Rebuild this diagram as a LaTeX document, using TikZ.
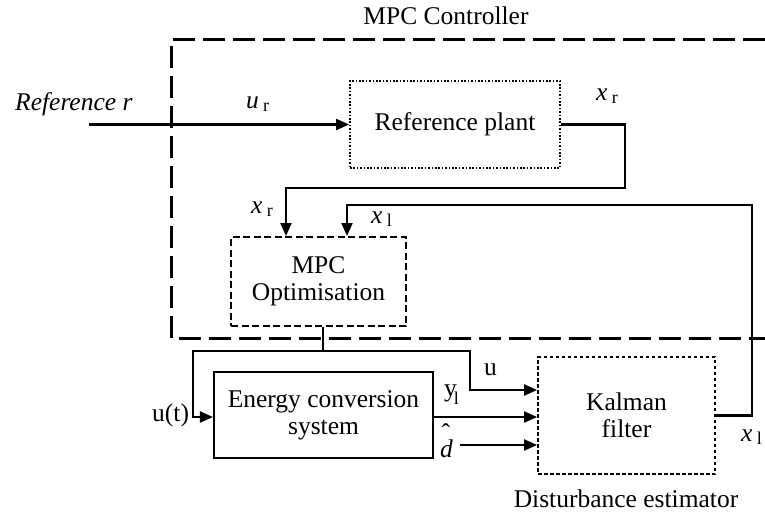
\documentclass[tikz,border=0pt]{standalone}
\usepackage{fontspec}
\setmainfont{Liberation Serif}
\usetikzlibrary{arrows.meta,calc}
\newcommand{\myvar}[2]{\textit{#1}\,\raisebox{-0.3ex}{\fontsize{18}{20}\selectfont #2}}
\begin{document}
\begin{tikzpicture}[x=1pt,y=-1pt,
  font=\fontsize{25.5}{29}\selectfont,
  blk/.style={draw,line width=2.1pt,inner sep=0pt,align=center},
  dotbox/.style={blk,line width=1.8pt,dash pattern=on 1.6pt off 1.8pt},
  dashbox/.style={blk,line width=2pt,dash pattern=on 7pt off 3.5pt},
  kbox/.style={blk,line width=1.8pt,dash pattern=on 3.5pt off 2.5pt},
  ln/.style={line width=2.1pt},
  arr/.style={ln,-{Triangle[length=13pt,width=11pt]}},
  frame/.style={line width=3pt,dash pattern=on 22pt off 8pt},
  lbl/.style={anchor=base west,inner sep=0pt}]
\useasboundingbox (0,0) rectangle (765,519);

% outer MPC controller frame
\draw[frame] (765,40) -- (171,40) -- (171,338) -- (765,338);
\node[anchor=base,inner sep=0pt] (title) at (446,25) {MPC Controller};

% blocks
\node[dotbox,minimum width=210pt,minimum height=87pt] (refplant) at (455,124.5) {Reference plant};
\node[dashbox,minimum width=175pt,minimum height=89pt] (mpc) at (318.5,281.5) {MPC\\[-2pt]Optimisation};
\node[blk,minimum width=219pt,minimum height=86pt] (energy) at (323.5,415) {Energy conversion\\[-2pt]system};
\node[kbox,minimum width=177pt,minimum height=117pt] (kalman) at (626.5,415.5) {Kalman\\[-2pt]filter};
\node[anchor=base,inner sep=0pt] (dist) at (626,507) {Disturbance estimator};

% reference input
\coordinate (rin) at (89,124.5);
\draw[arr] (rin) -- (refplant.west);
\node[lbl] (reflbl) at (15,110) {\textit{Reference r}};
\node[lbl] (urlbl) at (246,108) {\myvar{u}{r}};

% x_r path
\coordinate (xrc) at (625,188);
\draw[arr] (refplant.east) -| (xrc) -| ($(mpc.north west)+(56,0)$);
\node[lbl] (xr1) at (596,100) {\myvar{x}{r}};
\node[lbl] (xr2) at (251,213) {\myvar{x}{r}};

% x_l feedback
\coordinate (xlc) at (752,205);
\draw[arr] (kalman.east) -| (xlc) -| ($(mpc.north west)+(117,0)$);
\node[lbl] (xl1) at (371,223) {\myvar{x}{l}};
\node[lbl] (xl2) at (741,441) {\myvar{x}{l}};

% MPC output split
\coordinate (split) at (323,351);
\draw[ln] ($(mpc.south)+(4.5,0)$) -- (split);
\draw[arr] (split) -| (193,417) -- ($(energy.west)+(0,2)$);
\draw[arr] (split) -| (470,390) -- ($(kalman.west)+(0,-25.5)$);
\node[lbl] (ut) at (152,421) {u(t)};
\node[lbl] (ulbl) at (484,375) {u};

% y_l
\draw[arr] ($(energy.east)+(0,2)$) -- ($(kalman.west)+(0,1.5)$);
\node[lbl] (yl) at (444,396) {y\kern-3pt\raisebox{-0.7ex}{\fontsize{18}{20}\selectfont l}};

% d hat
\coordinate (dh) at (460,445);
\draw[arr] (dh) -- ($(kalman.west)+(0,29.5)$);
\node[lbl] (dhat) at (440,457) {\rlap{\raisebox{0.62em}{\kern1.5pt ˆ}}\textit{d}};
\end{tikzpicture}
\end{document}
